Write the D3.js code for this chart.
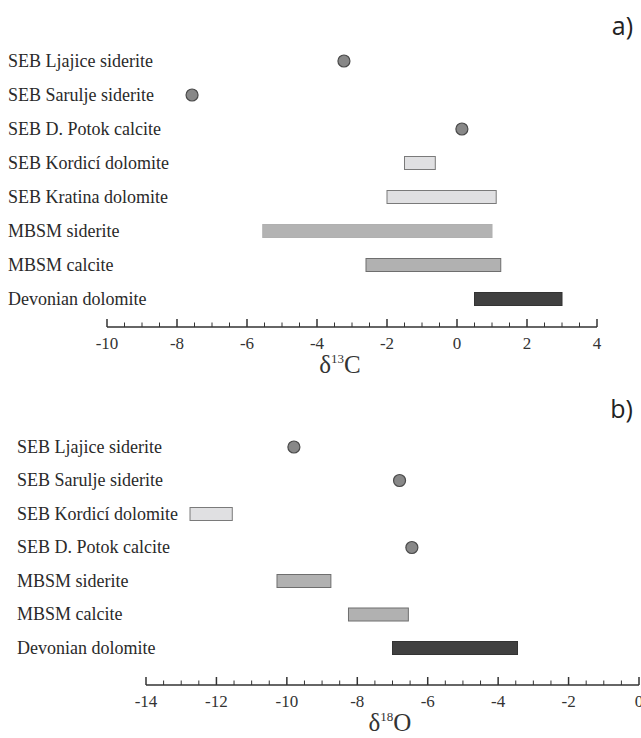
<!DOCTYPE html>
<html><head><meta charset="utf-8">
<script src="https://cdn.jsdelivr.net/npm/d3@7"></script>
<style>body{margin:0;background:#fff}svg{display:block}</style>
</head><body><svg id="c" width="641" height="738"></svg>
<script>
// Panel a) δ13C
const catsA = ["SEB Ljajice siderite","SEB Sarulje siderite","SEB D. Potok calcite","SEB Kordicí dolomite","SEB Kratina dolomite","MBSM siderite","MBSM calcite","Devonian dolomite"];
const minA = [-3.23,-7.57,0.14,-1.5,-2.0,-5.55,-2.6,0.5];
const maxA = [-3.23,-7.57,0.14,-0.62,1.12,1.0,1.25,3.0];
const typeA = ["dot","dot","dot","lite","lite","mid","mid2","dark"];
const ticksA = [-10,-8,-6,-4,-2,0,2,4];
// Panel b) δ18O
const catsB = ["SEB Ljajice siderite","SEB Sarulje siderite","SEB Kordicí dolomite","SEB D. Potok calcite","MBSM siderite","MBSM calcite","Devonian dolomite"];
const minB = [-9.8,-6.8,-12.75,-6.45,-10.28,-8.25,-7.0];
const maxB = [-9.8,-6.8,-11.55,-6.45,-8.75,-6.55,-3.45];
const typeB = ["dot","dot","lite","dot","mid2","mid2","dark"];
const ticksB = [-14,-12,-10,-8,-6,-4,-2,0];

const styles = {
  lite:{fill:"#e0e0e2",stroke:"#7a7a7a"},
  mid:{fill:"#b3b3b3",stroke:"#b0b0b0"},
  mid2:{fill:"#b1b1b1",stroke:"#6e6e6e"},
  dark:{fill:"#404040",stroke:"#333"}
};
const svg = d3.select("#c");
const font = "Liberation Serif, Times New Roman, serif";

function panel(cfg){
  const {cats,mins,maxs,types,ticks,x0,x1,dom,yTop,yBot,axisY,labelX,title,sup,tail,letter,letterY,titleX} = cfg;
  const x = d3.scaleLinear().domain(dom).range([x0,x1]);
  const y = d3.scalePoint().domain(cats).range([yTop,yBot]);
  const g = svg.append("g");
  g.selectAll("text.lab").data(cats).join("text")
    .attr("x",labelX).attr("y",d=>y(d)).attr("dy","0.33em")
    .style("font-family",font).style("font-size","18px").attr("fill","#2a2a2a").text(d=>d);
  const data = cats.map((c,i)=>({c,lo:mins[i],hi:maxs[i],t:types[i]}));
  g.selectAll("rect.bar").data(data.filter(d=>d.t!=="dot")).join("rect")
    .attr("x",d=>x(d.lo)).attr("width",d=>x(d.hi)-x(d.lo))
    .attr("y",d=>y(d.c)-6.5).attr("height",13)
    .attr("fill",d=>styles[d.t].fill).attr("stroke",d=>styles[d.t].stroke).attr("stroke-width",1);
  g.selectAll("circle.dot").data(data.filter(d=>d.t==="dot")).join("circle")
    .attr("cx",d=>x(d.lo)).attr("cy",d=>y(d.c)).attr("r",6)
    .attr("fill","#888").attr("stroke","#4a4a4a").attr("stroke-width",1.2);
  // axis
  const minor = d3.range(dom[0],dom[1]+0.001,0.5);
  const isMajor = d=>ticks.includes(Math.round(d*100)/100);
  g.append("line").attr("x1",x(dom[0])).attr("x2",x(dom[1])).attr("y1",axisY).attr("y2",axisY)
    .attr("stroke","#333").attr("stroke-width",1.5);
  g.selectAll("line.tk").data(minor).join("line")
    .attr("x1",d=>x(d)).attr("x2",d=>x(d)).attr("y1",axisY)
    .attr("y2",d=>isMajor(d)?axisY-8:axisY-4.5)
    .attr("stroke","#333").attr("stroke-width",d=>isMajor(d)?1.5:1);
  g.selectAll("text.tl").data(ticks).join("text")
    .attr("x",d=>x(d)).attr("y",axisY+22).attr("text-anchor","middle")
    .style("font-family",font).style("font-size","17px").attr("fill","#333").text(d=>d);
  const t = g.append("text").attr("x",titleX).attr("y",axisY+46)
    .attr("text-anchor","middle").style("font-family",font).style("font-size","25px").attr("fill","#333");
  t.append("tspan").text(title);
  t.append("tspan").style("font-size","13px").attr("dy",-10).text(sup);
  t.append("tspan").attr("dy",10).text(tail);
  svg.append("text").attr("x",633).attr("y",letterY).attr("text-anchor","end")
    .style("font-family","Open Sans, sans-serif").style("font-size","25px").attr("fill","#222").text(letter);
}

panel({cats:catsA,mins:minA,maxs:maxA,types:typeA,ticks:ticksA,x0:107,x1:597,dom:[-10,4],
  yTop:61,yBot:299,axisY:327,labelX:8,title:"δ",sup:"13",tail:"C",letter:"a)",letterY:35,titleX:340});
panel({cats:catsB,mins:minB,maxs:maxB,types:typeB,ticks:ticksB,x0:146,x1:639,dom:[-14,0],
  yTop:447,yBot:648,axisY:685,labelX:17,title:"δ",sup:"18",tail:"O",letter:"b)",letterY:418,titleX:390});
</script></body></html>
